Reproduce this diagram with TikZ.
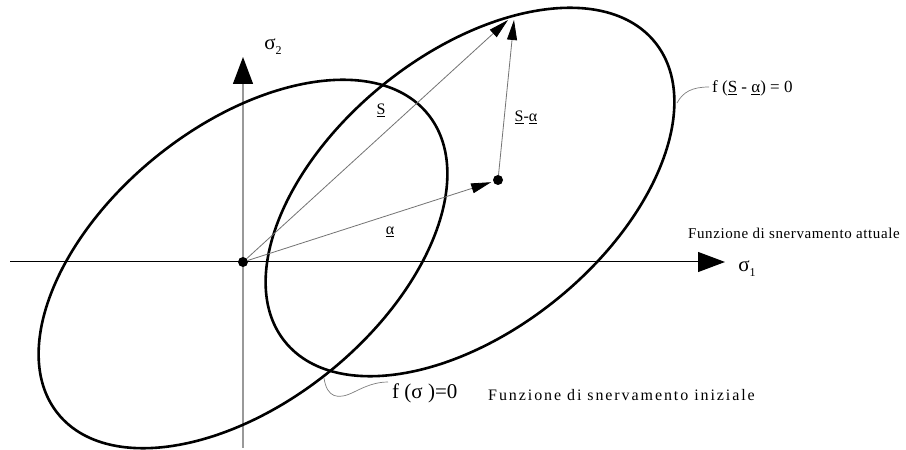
\documentclass[tikz,border=0pt]{standalone}
\usepackage{fontspec}
\setmainfont{Liberation Serif}
\usetikzlibrary{arrows.meta}
\begin{document}
\begin{tikzpicture}[x=1pt,y=1pt,
  ell/.style={line width=2.6pt},
  vec/.style={draw=black!55, line width=0.8pt, -{Triangle[length=20pt,width=10pt,color=black]}},
  axisarrow/.style={-{Triangle[length=27pt,width=20pt,color=black]}},
  dotnode/.style={circle, fill=black, inner sep=0pt, minimum size=10pt},
  leader/.style={draw=black!50, line width=0.7pt},
  lbl/.style={inner sep=0pt, font=\fontsize{16}{18}\selectfont},
  axlbl/.style={inner sep=0pt, font=\fontsize{21}{24}\selectfont},
]
\useasboundingbox (0,0) rectangle (906,450);
\fill[white] (0,0) rectangle (906,450);
% axes
\coordinate (xs) at (10,188);
\coordinate (xe) at (725,188);
\coordinate (ys) at (243,2);
\coordinate (ye) at (243,393);
\draw[line width=1pt, axisarrow] (xs) -- (xe);
\draw[draw=black!40, line width=1.3pt, axisarrow] (ys) -- (ye);
\node[axlbl] (s1) at (747,181) {σ\raisebox{-0.5ex}{\fontsize{12}{13}\selectfont 1}};
\node[axlbl] (s2) at (273,403) {σ\raisebox{-0.5ex}{\fontsize{12}{13}\selectfont 2}};
% ellipses
\coordinate (C1) at (243,186);
\coordinate (C2) at (470,258);
\draw[ell, rotate around={39:(C1)}] (C1) ellipse [x radius=238, y radius=138];
\draw[ell, rotate around={39:(C2)}] (C2) ellipse [x radius=238, y radius=138];
% points and vectors
\node[dotnode] (O) at (243,188) {};
\node[dotnode] (A) at (498,270) {};
\coordinate (St) at (508,430);
\coordinate (SAt) at (514,430);
\draw[vec] (O) -- (St);
\draw[vec] (A) -- (SAt);
\draw[vec, shorten >=2pt] (O) -- (A);
\node[lbl] (Sl) at (381,340) {\underline{S}};
\node[lbl] (al) at (390,218) {\underline{α}};
\node[lbl] (SAl) at (526,333) {\underline{S}-\underline{α}};
% labels with leaders
\coordinate (L1a) at (324,72);
\coordinate (L1b) at (388,68);
\draw[leader] (L1a) .. controls (327,52) and (338,50) .. (354,58) .. controls (366,64) and (376,68) .. (L1b);
\node[inner sep=0pt, anchor=west, font=\fontsize{21}{24}\selectfont] (fs) at (392,57) {f (σ )=0};
\node[inner sep=0pt, anchor=west, font=\fontsize{16}{18}\selectfont\addfontfeature{LetterSpace=12}] (ini) at (488,55) {Funzione di snervamento iniziale};
\coordinate (L2a) at (677,347);
\coordinate (L2b) at (709,363);
\draw[leader] (L2a) .. controls (683,358) and (692,363) .. (L2b);
\node[inner sep=0pt, anchor=west, font=\fontsize{17}{20}\selectfont] (fsa) at (712,362) {f (\underline{S} - \underline{α}) = 0};
\node[inner sep=0pt, anchor=west, font=\fontsize{15}{18}\selectfont\addfontfeature{LetterSpace=4}] (att) at (688,217) {Funzione di snervamento attuale};
\end{tikzpicture}
\end{document}
